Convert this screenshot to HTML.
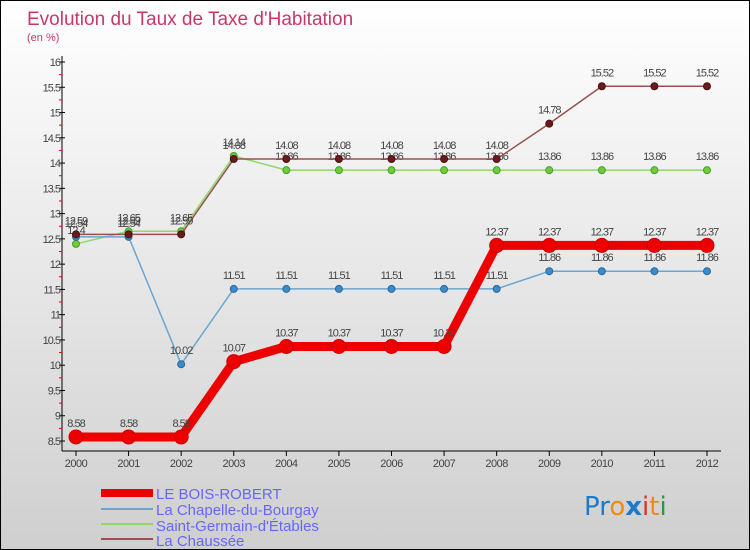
<!DOCTYPE html>
<html><head><meta charset="utf-8"><style>
body{margin:0}
#c{width:748px;height:548px;border:1px solid #000;background:linear-gradient(#fff,#cfcfcf);position:relative;overflow:hidden;font-family:"Liberation Sans",sans-serif}
</style></head><body>
<div id="c">
<svg id="s" width="748" height="548">
<text x="26" y="24" font-size="19" fill="#c8386a">Evolution du Taux de Taxe d'Habitation</text>
<text x="26" y="40" font-size="11" fill="#c8386a">(en %)</text>
<g id="axes"></g><g id="series"></g>
<g>
<rect x="100" y="488" width="52" height="8" fill="#e00"/>
<text x="155" y="498" font-size="15" fill="#66f">LE BOIS-ROBERT</text>
<line x1="100" y1="508" x2="152" y2="508" stroke="#6aa6cf" stroke-width="2"/>
<text x="155" y="514" font-size="15" fill="#66f">La Chapelle-du-Bourgay</text>
<line x1="100" y1="523" x2="152" y2="523" stroke="#8fd86a" stroke-width="2"/>
<text x="155" y="530" font-size="15" fill="#66f">Saint-Germain-d'Étables</text>
<line x1="100" y1="538" x2="152" y2="538" stroke="#9a5050" stroke-width="2"/>
<text x="155" y="545" font-size="15" fill="#66f">La Chaussée</text>
</g>
<g font-size="26" font-family="'DejaVu Sans',sans-serif">
<text x="583" y="514"><tspan fill="#1a7acc">Pr</tspan><tspan fill="#f08a10">o</tspan><tspan fill="#1a7acc" font-weight="bold">x</tspan><tspan fill="#e03020">i</tspan><tspan fill="#f08a10">t</tspan><tspan fill="#2a9a3a">i</tspan></text>
</g>
</svg></div>
<script>
const years=[2000,2001,2002,2003,2004,2005,2006,2007,2008,2009,2010,2011,2012];
const boisRobert=[8.58,8.58,8.58,10.07,10.37,10.37,10.37,10.37,12.37,12.37,12.37,12.37,12.37];
const chapelle=[12.54,12.54,10.02,11.51,11.51,11.51,11.51,11.51,11.51,11.86,11.86,11.86,11.86];
const saintGermain=[12.4,12.65,12.65,14.14,13.86,13.86,13.86,13.86,13.86,13.86,13.86,13.86,13.86];
const chaussee=[12.59,12.59,12.59,14.08,14.08,14.08,14.08,14.08,14.08,14.78,15.52,15.52,15.52];
const yTicks=["8.5","9","9.5","10","10.5","11","11.5","12","12.5","13","13.5","14","14.5","15","15.5","16"];
const NS="http://www.w3.org/2000/svg";
const X=i=>75+i*(706-75)/(years.length-1);
const Y=v=>440-(v-8.5)*(440-61)/7.5;
function mk(t,a,p){const e=document.createElementNS(NS,t);for(const k in a)e.setAttribute(k,a[k]);p.appendChild(e);return e;}
const ax=document.getElementById('axes');
let l=mk('line',{x1:61,y1:55,x2:61,y2:450,stroke:'#000'},ax);

l=mk('line',{x1:61,y1:450,x2:720,y2:450,stroke:'#000'},ax);

yTicks.forEach((t,i)=>{const y=Y(parseFloat(t));
mk('line',{x1:58,y1:y,x2:64,y2:y,stroke:'#000'},ax);
if(i<yTicks.length-1)mk('line',{x1:58,y1:Y(parseFloat(t)+0.25),x2:61,y2:Y(parseFloat(t)+0.25),stroke:'#e00'},ax);
const tx=mk('text',{x:59,y:y+4,'font-size':11,fill:'#444','text-anchor':'end','letter-spacing':'-1'},ax);tx.textContent=t;
});
years.forEach((yr,i)=>{mk('line',{x1:X(i),y1:450,x2:X(i),y2:455,stroke:'#000'},ax);
const tx=mk('text',{x:X(i),y:466,'font-size':11,fill:'#444','text-anchor':'middle','letter-spacing':'-0.5'},ax);tx.textContent=yr;
});
const sg=document.getElementById('series');
function draw(data,name,color,w,r,dot,stroke){
const g=mk('g',{},sg);

mk('polyline',{points:data.map((v,i)=>X(i)+','+Y(v)).join(' '),fill:'none',stroke:color,'stroke-width':w,'stroke-linejoin':'round'},g);
data.forEach((v,i)=>{const c=mk('circle',{cx:X(i),cy:Y(v),r:r,fill:dot,stroke:stroke,'stroke-width':1},g);

const t=mk('text',{x:X(i),y:Y(v)-10,'font-size':11,fill:'#444','text-anchor':'middle','letter-spacing':'-1'},g);t.textContent=v;
});}
draw(saintGermain,'saint-germain-line','#8fd86a',1.5,3.5,'#6ccc3a','#4a9a2a');
draw(chapelle,'chapelle-line','#6aa6cf',1.5,3.5,'#3a8acc','#2a6a9a');
draw(chaussee,'chaussee-line','#9a5050',1.5,3.5,'#6a1a1a','#4a1010');
draw(boisRobert,'bois-robert-line','#e00',9,7,'#e00','#c00');
</script></body></html>
